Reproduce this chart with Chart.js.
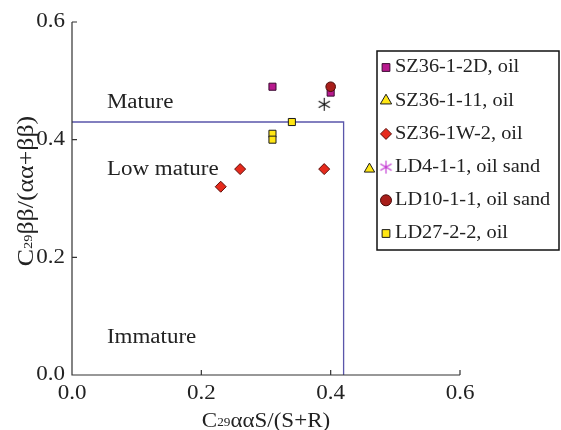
<!DOCTYPE html>
<html>
<head>
<meta charset="utf-8">
<script src="https://cdn.jsdelivr.net/npm/chart.js@4/dist/chart.umd.min.js"></script>
<style>
  html, body { margin: 0; padding: 0; background: #fff; }
  #wrap { width: 561px; height: 430px; }
</style>
</head>
<body>
<div id="wrap"><canvas id="c" width="561" height="430"></canvas></div>
<script>
// Sample series: [C29 aaS/(S+R), C29 bb/(aa+bb)]
const sz36_1_2D = [[0.31, 0.49], [0.40, 0.48]];
const sz36_1_11 = [[0.46, 0.35]];
const sz36_1W_2 = [[0.26, 0.35], [0.23, 0.32], [0.39, 0.35]];
const ld4_1_1   = [[0.39, 0.46]];
const ld10_1_1  = [[0.40, 0.49]];
const ld27_2_2  = [[0.34, 0.43], [0.31, 0.41], [0.31, 0.40]];

const seriesNames = ['SZ36-1-2D, oil', 'SZ36-1-11, oil', 'SZ36-1W-2, oil',
                     'LD4-1-1, oil sand', 'LD10-1-1, oil sand', 'LD27-2-2, oil'];

const xTicks = [0, 0.2, 0.4, 0.6];
const yTicks = [0, 0.2, 0.4, 0.6];

// Maturity boundaries
const sBoundary = 0.42;
const bbBoundary = 0.43;

const zoneLabels = [
  { text: 'Mature',     x: 0.054, y: 0.463 },
  { text: 'Low mature', x: 0.054, y: 0.349 },
  { text: 'Immature',   x: 0.054, y: 0.063 }
];

const SERIF = '"Liberation Serif", "Times New Roman", serif';
const SX = 1.15; // horizontal text stretch

// Six-armed asterisk marker
function asterisk(color, r) {
  const c = document.createElement('canvas');
  const s = Math.ceil(r * 2 + 4);
  c.width = s; c.height = s;
  const g = c.getContext('2d');
  g.strokeStyle = color; g.lineWidth = 1.1;
  g.translate(s / 2, s / 2);
  for (let i = 0; i < 3; i++) {
    const a = Math.PI / 2 + i * Math.PI / 3;
    g.beginPath();
    g.moveTo(Math.cos(a) * r, Math.sin(a) * r);
    g.lineTo(-Math.cos(a) * r, -Math.sin(a) * r);
    g.stroke();
  }
  return c;
}

const toPts = arr => arr.map(p => ({ x: p[0], y: p[1] }));

const styles = [
  { pointStyle: 'rect',     radius: 5,   bg: '#b8198e', border: '#3a0a30', order: 2 },
  { pointStyle: 'triangle', radius: 6,   bg: '#ffe614', border: '#1a1a1a', order: 2 },
  { pointStyle: 'rectRot',  radius: 5.5, bg: '#e62a1c', border: '#5a0c08', order: 2 },
  { pointStyle: asterisk('#111111', 6.5), radius: 7, bg: '#111', border: '#111', order: 2,
    legendStyle: asterisk('#c030d0', 6.5) },
  { pointStyle: 'circle',   radius: 4.8, bg: '#a81e1a', border: '#4a0a08', order: 1 },
  { pointStyle: 'rect',     radius: 5,   bg: '#ffe614', border: '#1a1a1a', order: 2 }
];

const seriesData = [sz36_1_2D, sz36_1_11, sz36_1W_2, ld4_1_1, ld10_1_1, ld27_2_2];

const datasets = seriesData.map((d, i) => ({
  label: seriesNames[i],
  data: toPts(d),
  pointStyle: styles[i].pointStyle,
  pointRadius: styles[i].radius,
  pointHoverRadius: styles[i].radius,
  backgroundColor: styles[i].bg,
  borderColor: styles[i].border,
  pointBorderWidth: 1,
  order: styles[i].order
}));

function drawStretched(ctx, text, x, y, align, font, sx = SX) {
  ctx.save();
  ctx.font = font;
  const w = ctx.measureText(text).width * sx;
  let x0 = x;
  if (align === 'center') x0 = x - w / 2;
  else if (align === 'right') x0 = x - w;
  ctx.translate(x0, y);
  ctx.scale(sx, 1);
  ctx.textAlign = 'left';
  ctx.fillText(text, 0, 0);
  ctx.restore();
}

// Rich text: array of [text, isSubscript], centred on (cx, cy) baseline
function drawRich(ctx, parts, cx, cy, bigPx, smallPx) {
  const big = bigPx + 'px ' + SERIF, small = smallPx + 'px ' + SERIF;
  let total = 0;
  const widths = parts.map(([t, sub]) => {
    ctx.font = sub ? small : big;
    const w = ctx.measureText(t).width * SX;
    total += w;
    return w;
  });
  let x = cx - total / 2;
  parts.forEach(([t, sub], i) => {
    ctx.save();
    ctx.font = sub ? small : big;
    ctx.textBaseline = 'alphabetic';
    ctx.translate(x, cy + (sub ? -1 : 0));
    ctx.scale(SX, 1);
    ctx.fillText(t, 0, 0);
    ctx.restore();
    x += widths[i];
  });
}

const overlay = {
  id: 'overlay',
  beforeDatasetsDraw(chart) {
    const { ctx, scales: { x, y } } = chart;
    // Maturity boundary lines
    ctx.save();
    ctx.strokeStyle = '#5a56aa';
    ctx.lineWidth = 1.3;
    ctx.beginPath();
    ctx.moveTo(x.getPixelForValue(0), y.getPixelForValue(bbBoundary));
    ctx.lineTo(x.getPixelForValue(sBoundary), y.getPixelForValue(bbBoundary));
    ctx.lineTo(x.getPixelForValue(sBoundary), y.getPixelForValue(0));
    ctx.stroke();
    ctx.restore();

    // Axis lines and inward ticks
    ctx.save();
    ctx.strokeStyle = '#333';
    ctx.lineWidth = 1.2;
    const x0 = x.getPixelForValue(0), y0 = y.getPixelForValue(0);
    ctx.beginPath();
    ctx.moveTo(x0, y.getPixelForValue(0.6));
    ctx.lineTo(x0, y0);
    ctx.lineTo(x.getPixelForValue(0.6), y0);
    xTicks.forEach(v => {
      if (v === 0) return;
      const px = x.getPixelForValue(v);
      ctx.moveTo(px, y0); ctx.lineTo(px, y0 - 5);
    });
    yTicks.forEach(v => {
      if (v === 0) return;
      const py = y.getPixelForValue(v);
      ctx.moveTo(x0, py); ctx.lineTo(x0 + 5, py);
    });
    ctx.stroke();

    // Tick labels
    ctx.fillStyle = '#222';
    ctx.textBaseline = 'middle';
    const f = '20px ' + SERIF;
    xTicks.forEach(v => drawStretched(ctx, v.toFixed(1), x.getPixelForValue(v), y0 + 19, 'center', f));
    yTicks.forEach(v => drawStretched(ctx, v.toFixed(1), x0 - 7, y.getPixelForValue(v), 'right', f));

    // Zone labels
    zoneLabels.forEach(z => drawStretched(ctx, z.text, x.getPixelForValue(z.x), y.getPixelForValue(z.y), 'left', f));

    // Axis titles
    ctx.textBaseline = 'alphabetic';
    drawRich(ctx, [['C', false], ['29', true], ['\u03b1\u03b1S/(S+R)', false]],
             (x.left + x.right) / 2, 427, 20, 11.5);
    ctx.save();
    ctx.translate(33, 191);
    ctx.rotate(-Math.PI / 2);
    drawRich(ctx, [['C', false], ['29', true], ['\u03b2\u03b2/(\u03b1\u03b1+\u03b2\u03b2)', false]], 0, 0, 22.5, 12.5);
    ctx.restore();
    ctx.restore();
  },
  afterDatasetsDraw(chart) {
    const { ctx } = chart;
    // Legend box
    const bx = 377, by = 51, bw = 182, bh = 199;
    ctx.save();
    ctx.fillStyle = '#fff';
    ctx.fillRect(bx, by, bw, bh);
    ctx.strokeStyle = '#111';
    ctx.lineWidth = 1.5;
    ctx.strokeRect(bx, by, bw, bh);
    ctx.textBaseline = 'middle';
    chart.data.datasets.forEach((ds, i) => {
      const ry = 67.5 + i * 33.2;
      const st = styles[i];
      ctx.fillStyle = st.bg;
      ctx.strokeStyle = st.border;
      ctx.lineWidth = 1;
      const ps = st.legendStyle || st.pointStyle;
      const r = st.legendStyle ? 7 : (st.pointStyle === 'triangle' ? 6.5 : 5.5);
      Chart.helpers.drawPoint(ctx, { pointStyle: ps, radius: r, rotation: 0, borderWidth: 1 }, 386, ry);
      ctx.fillStyle = '#222';
      drawStretched(ctx, ds.label, 395, ry, 'left', '19px ' + SERIF, 1.07);
    });
    ctx.restore();
  }
};

new Chart(document.getElementById('c'), {
  type: 'scatter',
  data: { datasets },
  options: {
    responsive: false,
    animation: false,
    events: [],
    layout: { padding: { left: 72, right: 101, top: 22, bottom: 55 } },
    plugins: { legend: { display: false }, tooltip: { enabled: false } },
    scales: {
      x: {
        type: 'linear', min: 0, max: 0.6,
        ticks: { display: false, stepSize: 0.2 },
        grid: { display: false },
        border: { display: false },
        afterFit: s => { s.height = 0; }
      },
      y: {
        type: 'linear', min: 0, max: 0.6,
        ticks: { display: false, stepSize: 0.2 },
        grid: { display: false },
        border: { display: false },
        afterFit: s => { s.width = 0; }
      }
    }
  },
  plugins: [overlay]
});
</script>
</body>
</html>
